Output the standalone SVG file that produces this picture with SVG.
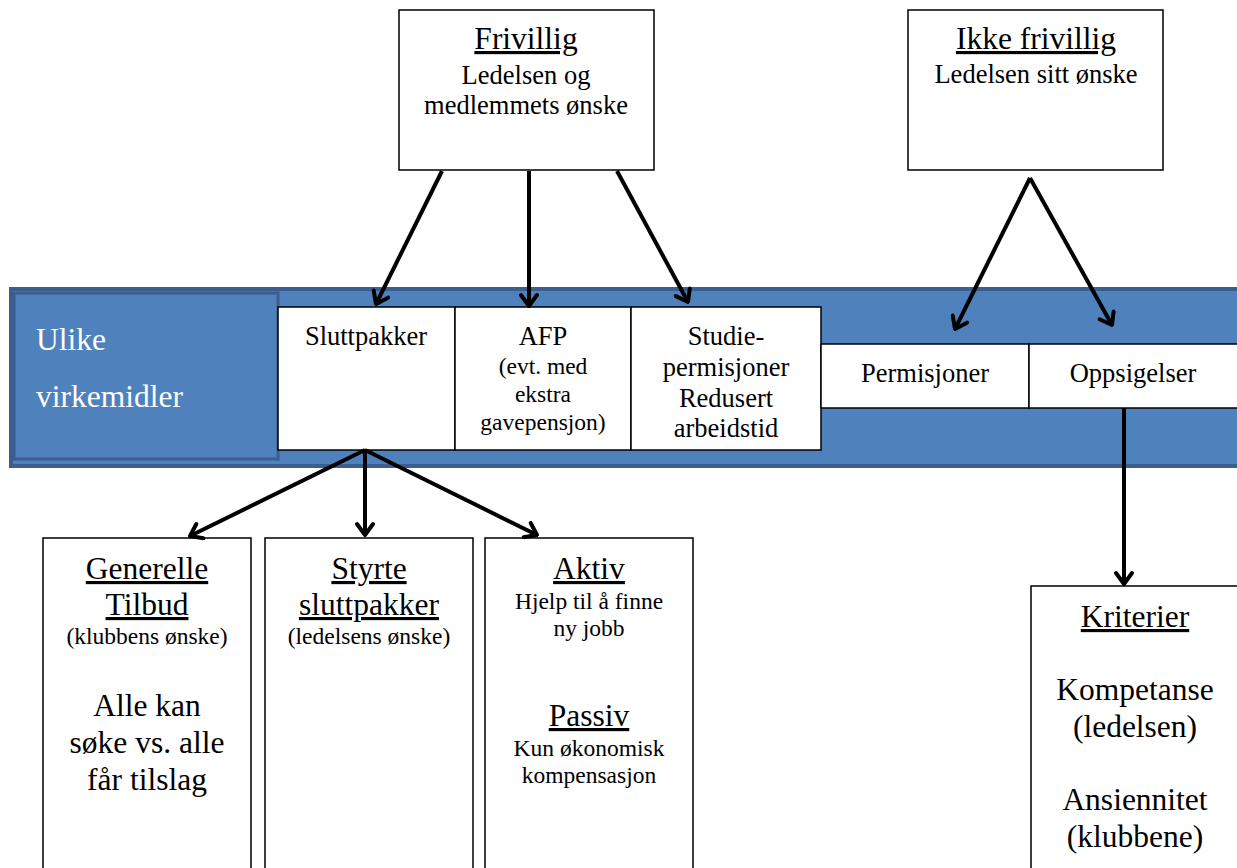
<svg xmlns="http://www.w3.org/2000/svg" width="1237" height="868" viewBox="0 0 1237 868">
<defs>
<style>
.box{fill:#fff;stroke:#000;stroke-width:1.5}
.h{font-family:"Liberation Serif","Times New Roman",serif;fill:#000;text-anchor:middle;font-size:31.5px;text-decoration:underline}
.m{font-family:"Liberation Serif","Times New Roman",serif;fill:#000;text-anchor:middle;font-size:26.5px}
.s{font-family:"Liberation Serif","Times New Roman",serif;fill:#000;text-anchor:middle;font-size:23.5px}
.l{font-family:"Liberation Serif","Times New Roman",serif;fill:#000;text-anchor:middle;font-size:31.5px}
.w{font-family:"Liberation Serif","Times New Roman",serif;fill:#fff;font-size:31.5px}
.c{stroke:#000;stroke-width:4;fill:none;marker-end:url(#ah)}
</style>
<marker id="ah" viewBox="-14 -10 16 20" markerWidth="16" markerHeight="20" refX="0" refY="0" orient="auto" markerUnits="userSpaceOnUse">
<path d="M-11,-8 L0,0 L-11,8" fill="none" stroke="#000" stroke-width="4" stroke-linecap="round" stroke-linejoin="round"/>
</marker>
</defs>
<rect width="1237" height="868" fill="#fff"/>
<g id="band">
<rect x="11" y="289" width="1230" height="177" fill="#4f81bd" stroke="#3a5f8f" stroke-width="4"/>
<rect x="14" y="293" width="264" height="166" fill="#4f81bd" stroke="#3a5f8f" stroke-width="3"/>
<text class="w" x="36" y="350">Ulike</text>
<text class="w" x="36" y="407">virkemidler</text>
</g>
<g id="frivillig">
<rect class="box" x="399" y="10" width="255" height="160"/>
<text class="h" x="526" y="49">Frivillig</text>
<text class="m" x="526" y="84">Ledelsen og</text>
<text class="m" x="526" y="114">medlemmets ønske</text>
</g>
<g id="ikke-frivillig">
<rect class="box" x="908" y="10" width="255" height="160"/>
<text class="h" x="1036" y="49">Ikke frivillig</text>
<text class="m" x="1036" y="83">Ledelsen sitt ønske</text>
</g>
<g id="sluttpakker">
<rect class="box" x="278" y="307" width="177" height="143"/>
<text class="m" x="366" y="345">Sluttpakker</text>
</g>
<g id="afp">
<rect class="box" x="455" y="307" width="176" height="143"/>
<text class="m" x="543" y="345">AFP</text>
<text class="s" x="543" y="374">(evt. med</text>
<text class="s" x="543" y="402">ekstra</text>
<text class="s" x="543" y="430">gavepensjon)</text>
</g>
<g id="studie">
<rect class="box" x="631" y="307" width="190" height="143"/>
<text class="m" x="726" y="345">Studie-</text>
<text class="m" x="726" y="376">permisjoner</text>
<text class="m" x="726" y="407">Redusert</text>
<text class="m" x="726" y="437">arbeidstid</text>
</g>
<g id="permisjoner">
<rect class="box" x="821" y="344" width="208" height="64"/>
<text class="m" x="925" y="382">Permisjoner</text>
</g>
<g id="oppsigelser">
<rect class="box" x="1029" y="344" width="210" height="64"/>
<text class="m" x="1133" y="382">Oppsigelser</text>
</g>
<g id="generelle">
<rect class="box" x="43" y="538" width="208" height="340"/>
<text class="h" x="147" y="579">Generelle</text>
<text class="h" x="147" y="615">Tilbud</text>
<text class="s" x="147" y="644">(klubbens ønske)</text>
<text class="l" x="147" y="716">Alle kan</text>
<text class="l" x="147" y="753">søke vs. alle</text>
<text class="l" x="147" y="790">får tilslag</text>
</g>
<g id="styrte">
<rect class="box" x="265" y="538" width="208" height="340"/>
<text class="h" x="369" y="579">Styrte</text>
<text class="h" x="369" y="615">sluttpakker</text>
<text class="s" x="369" y="644">(ledelsens ønske)</text>
</g>
<g id="aktiv">
<rect class="box" x="485" y="538" width="208" height="340"/>
<text class="h" x="589" y="579">Aktiv</text>
<text class="s" x="589" y="609">Hjelp til å finne</text>
<text class="s" x="589" y="636">ny jobb</text>
<text class="h" x="589" y="726">Passiv</text>
<text class="s" x="589" y="756">Kun økonomisk</text>
<text class="s" x="589" y="783">kompensasjon</text>
</g>
<g id="kriterier">
<rect class="box" x="1031" y="586" width="210" height="292"/>
<text class="h" x="1135" y="627">Kriterier</text>
<text class="l" x="1135" y="700">Kompetanse</text>
<text class="l" x="1135" y="737">(ledelsen)</text>
<text class="l" x="1135" y="810">Ansiennitet</text>
<text class="l" x="1135" y="847">(klubbene)</text>
</g>
<g id="connectors">
<line class="c" x1="442" y1="171" x2="376" y2="304"/>
<line class="c" x1="529" y1="171" x2="529" y2="306"/>
<line class="c" x1="617" y1="171" x2="688" y2="302"/>
<line class="c" x1="1030" y1="178" x2="955" y2="329"/>
<line class="c" x1="1030" y1="178" x2="1112" y2="325"/>
<line class="c" x1="365" y1="450" x2="190" y2="536"/>
<line class="c" x1="365" y1="450" x2="365" y2="535"/>
<line class="c" x1="365" y1="450" x2="537" y2="535"/>
<line class="c" x1="1124" y1="408" x2="1124" y2="584"/>
</g>
</svg>
